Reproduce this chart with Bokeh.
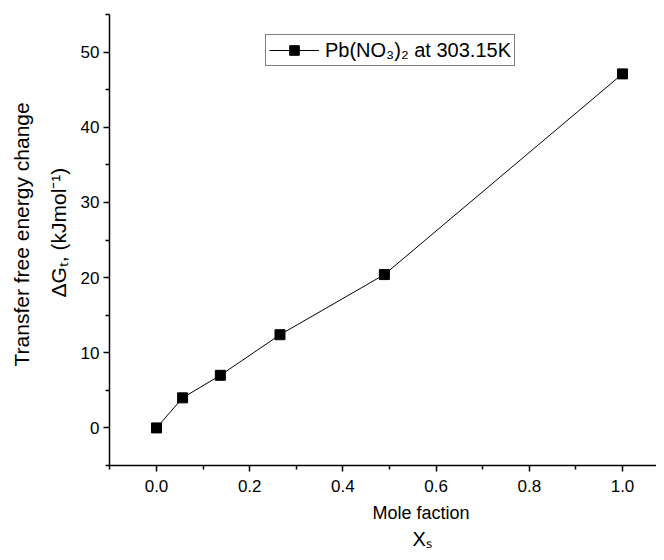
from bokeh.plotting import figure
from bokeh.models import (FixedTicker, PrintfTickFormatter, Legend, LegendItem, Range1d, Title)
from bokeh.embed import file_html
from bokeh.resources import INLINE

# ---- data ----
mole_fraction = [0.0, 0.056, 0.137, 0.265, 0.489, 1.0]
delta_g = [0.0, 4.0, 7.0, 12.4, 20.4, 47.1]
series_name = "Pb(NO\u2083)\u2082 at 303.15K"
x_major = [0.0, 0.2, 0.4, 0.6, 0.8, 1.0]
x_minor = [-0.1, 0.1, 0.3, 0.5, 0.7, 0.9]
y_major = [0, 10, 20, 30, 40, 50]
y_minor = [-5, 5, 15, 25, 35, 45, 55]
x_title = "Mole faction"
x_symbol = "X\u209b"
y_title_1 = "Transfer free energy change"
y_title_2 = "\u0394G\u209c, (kJmol\u207b\u00b9)"

FONT = "Liberation Sans"
W, H = 656, 552
FL, FT, FB = 109, 14, 465   # frame left / top / bottom in canvas pixels

X0, XS = 156.0, 466.0       # pixel of x=0 and pixels per unit
def dx(px):
    return (px - X0) / XS

p = figure(width=W, height=H, output_backend="svg", toolbar_location=None,
           x_range=Range1d(dx(FL), dx(W)), y_range=Range1d(-5, 55),
           min_border_left=FL, min_border_right=0, min_border_top=FT,
           min_border_bottom=H - FB)
p.outline_line_color = None
p.xgrid.visible = False
p.ygrid.visible = False
p.background_fill_color = "white"
p.border_fill_color = "white"

line_r = p.line(mole_fraction, delta_g, line_color="black", line_width=1)
mark_r = p.scatter(mole_fraction, delta_g, marker="square", size=10,
                   fill_color="black", line_color="black")

for ax in (p.xaxis[0], p.yaxis[0]):
    ax.axis_line_width = 1.5
    ax.axis_line_color = "black"
    ax.major_tick_line_color = "black"
    ax.minor_tick_line_color = "black"
    ax.major_tick_line_width = 1.5
    ax.minor_tick_line_width = 1.5
    ax.major_tick_out = 6
    ax.major_tick_in = 0
    ax.minor_tick_out = 4
    ax.minor_tick_in = 0
    ax.major_label_text_font = FONT
    ax.major_label_text_font_size = "17px"
    ax.major_label_text_color = "black"

p.xaxis[0].ticker = FixedTicker(ticks=x_major, minor_ticks=x_minor)
p.xaxis[0].formatter = PrintfTickFormatter(format="%.1f")
p.xaxis[0].major_label_standoff = 8
p.yaxis[0].ticker = FixedTicker(ticks=y_major, minor_ticks=y_minor)
p.yaxis[0].major_label_standoff = 4

def title(text, side, size, align="center", offset=0, standoff=0):
    t = Title(text=text, align=align, offset=offset, standoff=standoff,
              text_font=FONT, text_font_size=size, text_font_style="normal",
              text_color="black")
    p.add_layout(t, side)

# x-axis titles (stacked below the axis)
title(x_title, "below", "18px", align="left", offset=372 - FL, standoff=13)
title(x_symbol, "below", "20px", align="left", offset=412 - FL, standoff=-7)

# y-axis titles (stacked left of the axis); align left = start at frame bottom
title(y_title_2, "left", "21px", align="left", offset=FB - 297, standoff=15)
title(y_title_1, "left", "21px", align="left", offset=FB - 366, standoff=9)

legend = Legend(items=[LegendItem(label=series_name, renderers=[line_r, mark_r])],
                location=(265 - FL, FB - 66), margin=0, padding=3, spacing=0,
                glyph_width=50, glyph_height=24, label_standoff=6,
                label_text_font=FONT, label_text_font_size="20px",
                label_text_color="black", label_height=24,
                border_line_color="black", border_line_width=1,
                background_fill_color="white", background_fill_alpha=1.0)
p.add_layout(legend)

open("out.html", "w").write(file_html(p, INLINE))
